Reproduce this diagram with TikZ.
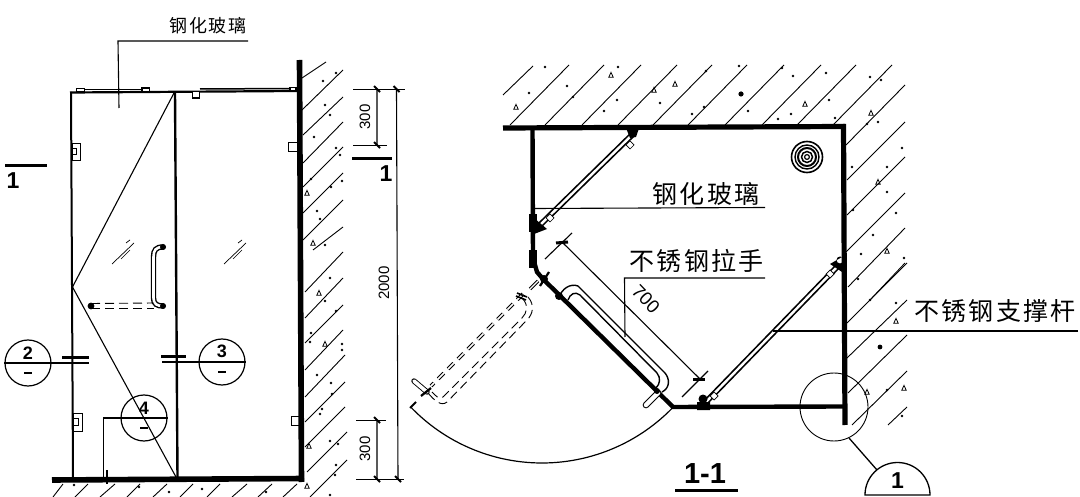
\documentclass[tikz,border=0pt]{standalone}
\usepackage{fontspec}
\setmainfont{Liberation Sans}
\newfontfamily\cjk[LetterSpace=9]{Noto Sans CJK SC}
\tikzset{
  wallline/.style={line width=5.2pt,line cap=butt},
  panel/.style={line width=4.4pt},
  thin/.style={line width=1.1pt},
  fine/.style={line width=0.7pt},
  med/.style={line width=1.4pt},
  hatch/.style={line width=0.9pt},
  bar/.style={line width=3pt},
  strut/.style={double=white,double distance=2.4pt,line width=1.7pt},
  dashstrut/.style={double=white,double distance=1.6pt,line width=1pt,dash pattern=on 8pt off 6pt},
  dashed handle/.style={line width=0.9pt,dash pattern=on 9pt off 5pt},
  cn/.style={inner sep=0pt,font=\cjk\fontsize{25}{25}\selectfont},
  cns/.style={inner sep=0pt,font=\cjk\fontsize{18}{18}\selectfont},
  num/.style={inner sep=0pt,font=\bfseries\fontsize{18}{18}\selectfont},
  dim/.style={inner sep=0pt,font=\fontsize{15}{15}\selectfont},
  sec/.style={inner sep=0pt,font=\bfseries\fontsize{23}{23}\selectfont},
  callout/.style={circle,draw,line width=1.2pt,inner sep=0pt,minimum size=46pt},
  capsule/.style={double=white,double distance=4.5pt,line width=1.1pt,line cap=round},
}
\newcommand{\dotmark}[2]{\fill (#1,#2) circle (1.4pt);}
\newcommand{\trimark}[2]{\draw[line width=0.8pt] (#1-2.2,#2+2.2)--(#1+2.2,#2+2.2)--(#1,#2-2.6)--cycle;}
\begin{document}
\begin{tikzpicture}[x=1pt,y=-1pt]
\useasboundingbox (0,0) rectangle (1080,497);
\fill[white] (0,0) rectangle (1080,497);

%%%%%% LEFT VIEW: hatching
\foreach \a/\b/\c/\d in {302/78/326/62,302/110/343/70,303/135/343/97,303/163/343/122,303/187/343/147,303/213/343/173,303/240/343/200,313/250/343/227,305/292/343/252,305/318/343/278,305/343/343/305,305/370/343/330,305/397/345/355,305/422/345/382,305/447/345/407,307/472/347/432,310/497/347/460}
  \draw[hatch] (\a,\b)--(\c,\d);
\foreach \a/\b in {53/63,75/88,100/115,127/140,153/167,180/193,207/220,232/247,258/272,283/297}
  \draw[hatch] (\a,497)--(\b,484);
\foreach \a/\b in {323/81,336/73,325/105,330/115,314/137,336/148,340/155,311/179,331/187,342/181,317/211,320/219,325/245,330/278,325/301,336/311,311/333,310/342,342/344,342/350,317/375,331/383,332/394,322/409,320/414,330/441,338/444,336/465,335/475,330/495,139/487,169/492,202/489,266/492,74/485}
  {\dotmark{\a}{\b}}
\foreach \a/\b in {307/193,313/243,319/293,325/344,309/446,307/486}
  {\trimark{\a}{\b}}

%%%%%% LEFT VIEW: frame
\draw[line width=5.6pt] (299.5,60)--(301.5,482);
\draw[line width=5.6pt] (52,480)--(304,478.5);
\draw[line width=2.2pt] (70,92.5)--(297,91);
\draw[line width=2pt] (71,92)--(73,478);
\draw[line width=2.4pt] (175,92)--(177.5,478);
\draw[thin] (174,93)--(72.5,287)--(176,477);
% top fittings
\draw[line width=1.2pt] (78,89.5)--(142,89.5);
\draw[line width=1pt,fill=white] (76,88.5)--(84,88.5)--(84,92)--(76,92)--cycle;
\draw[line width=1.6pt,fill=white] (142,88)rectangle(149.5,92);
\draw[line width=1.6pt,fill=white] (192.5,91.5)rectangle(199.5,98);
\draw[line width=1.5pt] (200,89)--(290,88.5);
\draw[line width=1.2pt,fill=white] (290,87.5)rectangle(296,91);
% hinges
\foreach \a/\b/\c/\d in {72/143/80/160,73/413/82/431}
  {\draw[fine] (\a,\b)rectangle(\c,\d);\draw[fine] (\a,\b+5)rectangle(\c-4,\d-6);}
\draw[line width=0.9pt] (288.5,142)rectangle(297,151.5);
\draw[line width=0.9pt] (291,416.5)rectangle(299,425);
% glass marks
\foreach \a in {112,224}
  {\draw[fine] (\a,264)--(\a+22,243);\draw[fine] (\a+9,259)--(\a+18,250);\draw[fine] (\a+14,243)--(\a+18,240);}
% handle
\draw[line width=1.4pt,double=white,double distance=2.6pt,line cap=round]
  (163,247)..controls (156,247) and (153.5,250)..(153.5,257)--(153.5,298)..controls (153.5,304) and (157,306)..(163,306);
\fill (163,247) circle (3pt) (163,306) circle (3pt) (91,306) circle (3.4pt);
\draw[dashed handle] (91,303.5)--(154,303);
\draw[dashed handle] (91,308)--(154,308);

% leader: glass
\coordinate (glassA) at (248,41);
\coordinate (glassB) at (118,41);
\coordinate (glassC) at (119,108);
\node[cns,anchor=center] (glassT) at (208,26) {钢化玻璃};
\draw[thin] (glassA)--(glassB)--(glassC);

% section marks
\draw[line width=2.4pt] (5,165.5)--(47,165.5);
\node[sec] (secL) at (13,181) {1};
\draw[line width=3pt] (352,158.5)--(392,158.5);
\node[sec] (secR) at (386,174) {1};

% callouts
\node[callout] (c2) at (28,363) {};
\node[num] at (28,353) {2};
\draw[line width=1.4pt] (24,373)--(32,373);
\coordinate (c2e) at (88.5,363);
\draw[thin] (c2.west)--(c2e);
\draw[bar] (62,358)--(89,358);
\node[callout] (c3) at (222,362) {};
\node[num] at (222,351.5) {3};
\draw[line width=1.4pt] (218,372)--(226,372);
\coordinate (c3e) at (162,362);
\draw[thin] (c3.east)--(c3e);
\draw[bar] (161,357)--(186,357);
\node[callout] (c4) at (144,418) {};
\node[num] at (144,408) {4};
\draw[line width=1.4pt] (140,428)--(148,428);
\coordinate (c4a) at (103.5,418);
\coordinate (c4b) at (103.5,482);
\draw[thin] (c4.east)--(c4a)--(c4b);
\draw[line width=2.2pt] (107,470)--(107,484);

% dimensions
\coordinate (d1) at (353,89); \coordinate (d2) at (405,89);
\coordinate (d3) at (353,145); \coordinate (d4) at (387,145);
\coordinate (d5) at (356,420); \coordinate (d6) at (386,420);
\coordinate (d7) at (356,479); \coordinate (d8) at (404,479);
\draw[fine] (d1)--(d2) (d3)--(d4) (d5)--(d6) (d7)--(d8);
\draw[thin] (377,89)--(377,145) (377,420)--(377,479) (396.5,89)--(398,479);
\foreach \a/\b in {377/89,396.5/89,377/145,377/420,377/479,398/479}
  \draw[line width=2pt] (\a-3,\b-3)--(\a+3,\b+3);
\node[dim,rotate=90] at (365,117) {300};
\node[dim,rotate=90] at (384,283) {2000};
\node[dim,rotate=90] at (365,449) {300};

%%%%%% RIGHT VIEW: hatching
\draw[hatch] (503,95)--(533,66);
\foreach \a in {510,545,582,618,653,688,725,762,797,833}
  \draw[hatch] (\a,125)--(\a+59,65);
\foreach \a/\b/\c/\d in {846/145/905/85,847/180/905/122,847/215/905/157,846/252/905/193,848/287/905/228,870/300/905/263,847/323/907/263,847/358/907/300,848/393/907/335,852/425/907/371,888/425/907/407}
  \draw[hatch] (\a,\b)--(\c,\d);
\foreach \a/\b in {529/93,545/67,567/86,573/97,618/67,617/100,604/111,660/103,692/114,704/107,706/71,739/66,748/111,782/68,793/76,791/114,778/119,826/73,829/100,835/118,870/77,881/80,867/124,878/122,902/148,852/167,887/167,887/192,853/210,896/213,873/235,861/254,904/258,858/279,870/300,896/303,887/390,902/416}
  {\dotmark{\a}{\b}}
\fill (741,94) circle (2.6pt) (880,347) circle (2.4pt);
\foreach \a/\b in {516/107,611/75,654/90,675/84,805/104,871/113,878/182,887/251,896/321,867/392,904/388}
  {\trimark{\a}{\b}}

%%%%%% RIGHT VIEW: frame
\draw[wallline] (503,128)--(845,126.5);
\draw[wallline] (843.5,124)--(845,425);
\draw[panel] (532.5,127)--(533,258)--(537,272)--(543,279)--(673,407);
\draw[panel] (671,407)--(843,406.5);
\fill (529,214) rectangle (537,232);
\fill (529,250) rectangle (536.5,268);
% struts
\draw[strut] (634,133)--(539,226);
\draw[strut] (703,405)--(838,266);
\fill (626,128) -- (639,128) -- (636,137) -- (630,138) -- cycle;
\fill (534,218) -- (547,229) -- (534,234) -- cycle;
\fill (703,399) circle (4.5pt) (697,402) rectangle (710,410);
\fill (840,260) circle (3.5pt) (830,264) -- (842,257) -- (842,272) -- cycle;
\draw[fine,fill=white] (626,145)--(630,141)--(634,145)--(630,149)--cycle;
\draw[fine,fill=white] (546,218)--(550,214)--(554,218)--(550,222)--cycle;
\draw[fine,fill=white] (710,396)--(714,392)--(718,396)--(714,400)--cycle;
\draw[fine,fill=white] (826,274)--(830,270)--(834,274)--(830,278)--cycle;

% floor drain
\foreach \r/\w in {15.5/1.6,12/1.4,9/2,5.5/1.5,2.4/1.2}
  \draw[line width=\w pt] (807,157) circle (\r pt);

% handle on door
\fill (559,296) circle (4pt);
\fill (544,279) circle (4pt);
\draw[line width=2.2pt] (540,286)--(549,272);
\draw[line width=1.4pt] (559,297)..controls (562,289) and (570,283)..(578,286)--(665,373)..controls (670,379) and (670,388)..(662,392);
\draw[line width=1.4pt] (568,300)..controls (570,294) and (575,291)..(580,295)--(657,373)..controls (661,378) and (660,384)..(656,388);
% knob
\draw[capsule] (646,405)--(658,393);
\fill (657,391) circle (3pt);

% opened door
\coordinate (hinge) at (538,281);
\coordinate (doorEnd) at (412,407);
\draw[line width=1.1pt,double=white,double distance=1.2pt] (538,281)--(530,289);
\draw[dashstrut] (523,294)--(431,386);
\draw[line width=1.6pt] (517,293)--(527,297);
\draw[line width=1.6pt] (516,296)--(526,300);
\draw[dashed handle] (528,297)..controls (535,305) and (533,314)..(527,320)--(447,402)..controls (441,407) and (434,400)..(428,393);
\draw[dashed handle] (522,298)..controls (529,305) and (527,313)..(522,318)--(443,397)..controls (439,400) and (436,396)..(432,392);
\draw[capsule,line width=0.9pt,double distance=3.6pt] (414,381)--(427,392);
\draw[line width=2.2pt] (421,396)--(431,388);
\draw[line width=2pt] (410,408)--(416,402);
\draw[line width=1.2pt] plot[domain=44:136,samples=50,smooth] ({542+182*cos(\x)},{281+182*sin(\x)});

% 700 dimension
\coordinate (e1a) at (545,259); \coordinate (e1b) at (572,233);
\coordinate (e2a) at (682,397); \coordinate (e2b) at (708,371);
\draw[thin] (e1a)--(e1b) (e2a)--(e2b);
\draw[thin] (563,243)--(700,379);
\draw[line width=3pt] (556,243)--(568,242);
\draw[line width=3pt] (693,379)--(705,379);
\node[inner sep=0pt,font=\fontsize{18.5}{19}\selectfont,rotate=-46] (dim700) at (646,299) {700};

% labels
\node[cn] (lbG) at (706,194) {钢化玻璃};
\coordinate (lbGa) at (765,207.5); \coordinate (lbGb) at (535,208.5);
\draw[thin] (lbGa)--(lbGb);
\node[cn] (lbH) at (696.5,261) {不锈钢拉手};
\coordinate (lbHa) at (765,278); \coordinate (lbHb) at (624.5,278); \coordinate (lbHc) at (625,337);
\draw[thin] (lbHa)--(lbHb)--(lbHc);
\node[cn] (lbS) at (995,311) {不锈钢支撑杆};
\coordinate (lbSa) at (1078,331); \coordinate (lbSb) at (773,331);
\draw[thin] (lbSa)--(lbSb);

% section title
\node[inner sep=0pt,font=\bfseries\fontsize{29}{29}\selectfont] (title) at (705,474) {1-1};
\draw[line width=3.2pt] (675,490.5)--(738,490.5);

% detail callout
\node[circle,draw,line width=0.9pt,inner sep=0pt,minimum size=68pt] (detail) at (834,407) {};
\coordinate (halfL) at (865,495); \coordinate (halfR) at (930,495);
\draw[line width=1.3pt] (halfL) arc[start angle=180,end angle=0,radius=32.5pt]--cycle;
\node[sec] (d1num) at (897.5,481) {1};
\coordinate (halfT) at (877,470);
\draw[line width=1.3pt] (detail)+(15,31)--(halfT);
\end{tikzpicture}
\end{document}
